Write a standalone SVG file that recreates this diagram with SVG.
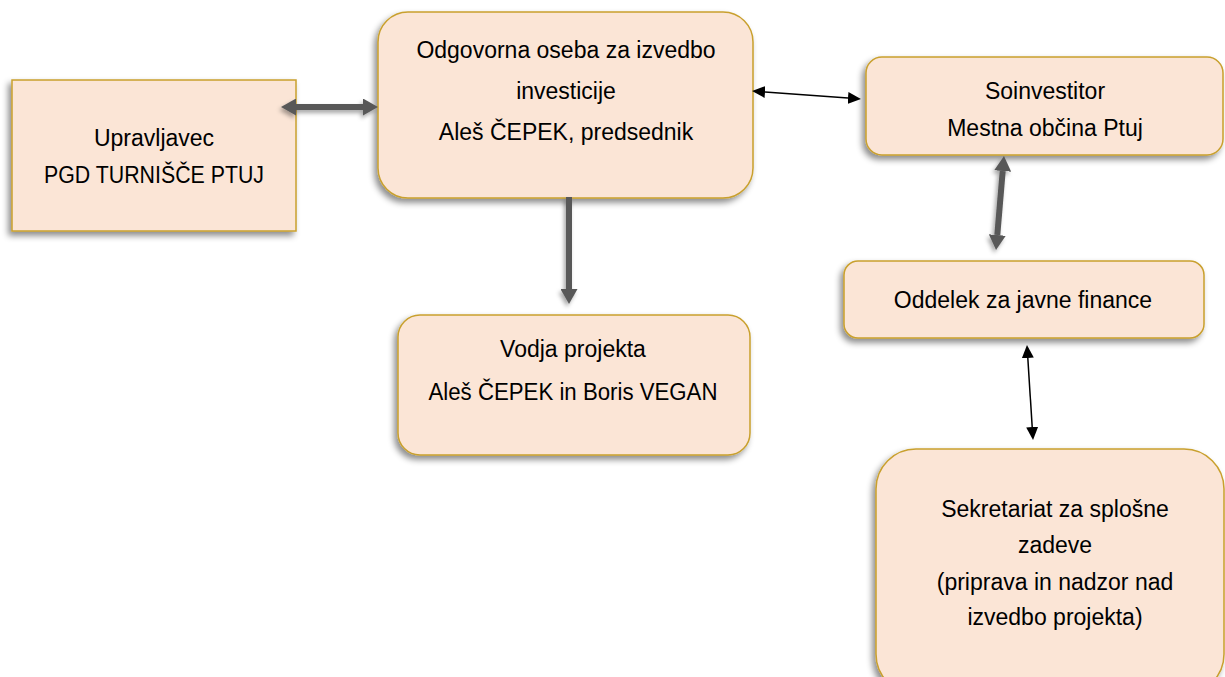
<svg xmlns="http://www.w3.org/2000/svg" width="1225" height="677" viewBox="0 0 1225 677">
<style>
.box{fill:#FBE5D6;stroke:#C9A02E;stroke-width:1.5;filter:url(#sh)}
.t{font-family:"Liberation Sans",Arial,sans-serif;font-size:23px;fill:#000;text-anchor:middle}
.thick{stroke:#595959;stroke-width:6;fill:none}
.thin{stroke:#000;stroke-width:1.5;fill:none}
</style>
<defs>
<filter id="sh" x="-10%" y="-10%" width="120%" height="130%">
<feDropShadow dx="-3" dy="4" stdDeviation="3" flood-color="#000" flood-opacity="0.45"/>
</filter>
<filter id="sh2" filterUnits="userSpaceOnUse" x="0" y="0" width="1225" height="677">
<feDropShadow dx="-2" dy="3" stdDeviation="2" flood-color="#000" flood-opacity="0.35"/>
</filter>
<marker id="hg" markerUnits="userSpaceOnUse" viewBox="0 0 15 17" refX="0" refY="8.5" markerWidth="15" markerHeight="17" orient="auto-start-reverse">
<path d="M0,0 L15,8.5 L0,17 z" fill="#595959"/>
</marker>
<marker id="hb" markerUnits="userSpaceOnUse" viewBox="0 0 13 12" refX="0" refY="6" markerWidth="13" markerHeight="12" orient="auto-start-reverse">
<path d="M0,0 L13,6 L0,12 z" fill="#000"/>
</marker>
</defs>
<g id="upravljavec">
<rect class="box" x="12" y="80" width="284" height="151"/>
<text class="t" x="154" y="146">Upravljavec</text>
<text class="t" x="154" y="183" textLength="220" lengthAdjust="spacingAndGlyphs">PGD TURNIŠČE PTUJ</text>
</g>
<g id="odgovorna">
<rect class="box" x="378" y="12" width="375" height="186" rx="30"/>
<text class="t" x="566" y="58">Odgovorna oseba za izvedbo</text>
<text class="t" x="566" y="99">investicije</text>
<text class="t" x="566" y="140">Aleš ČEPEK, predsednik</text>
</g>
<g id="vodja">
<rect class="box" x="398" y="315" width="352" height="140" rx="22"/>
<text class="t" x="573" y="357">Vodja projekta</text>
<text class="t" x="573" y="400" textLength="289" lengthAdjust="spacingAndGlyphs">Aleš ČEPEK in Boris VEGAN</text>
</g>
<g id="soinvestitor">
<rect class="box" x="866" y="57" width="357" height="98" rx="16"/>
<text class="t" x="1045" y="99">Soinvestitor</text>
<text class="t" x="1045" y="136">Mestna občina Ptuj</text>
</g>
<g id="oddelek">
<rect class="box" x="844" y="261" width="360" height="77" rx="14"/>
<text class="t" x="1023" y="308">Oddelek za javne finance</text>
</g>
<g id="sekretariat">
<rect class="box" x="876" y="449" width="348" height="245" rx="40"/>
<text class="t" x="1055" y="517">Sekretariat za splošne</text>
<text class="t" x="1055" y="553">zadeve</text>
<text class="t" x="1055" y="590">(priprava in nadzor nad</text>
<text class="t" x="1055" y="625">izvedbo projekta)</text>
</g>
<g id="connectors">
<g filter="url(#sh2)">
<line class="thick" x1="296" y1="107" x2="363" y2="107" marker-start="url(#hg)" marker-end="url(#hg)"/>
<line class="thick" x1="569" y1="197" x2="569" y2="289" marker-end="url(#hg)"/>
<line class="thick" x1="1002.7" y1="171" x2="997.3" y2="235" marker-start="url(#hg)" marker-end="url(#hg)"/>
</g>
<line class="thin" x1="765" y1="91.95" x2="848" y2="98.05" marker-start="url(#hb)" marker-end="url(#hb)"/>
<line class="thin" x1="1027.8" y1="358" x2="1032.2" y2="427" marker-start="url(#hb)" marker-end="url(#hb)"/>
</g>
</svg>
